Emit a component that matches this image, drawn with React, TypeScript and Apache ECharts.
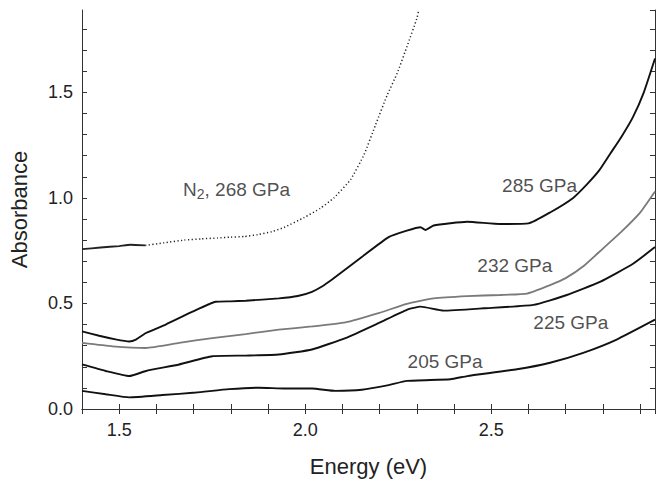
import React, { useEffect, useRef } from "react";
import * as echarts from "echarts";

// ---- data ----
const n2SolidX = [1.40, 1.45, 1.50, 1.53, 1.57];
const n2SolidY = [0.757, 0.765, 0.772, 0.778, 0.775];
const n2DotX = [1.57, 1.62, 1.675, 1.72, 1.765, 1.80, 1.836, 1.872, 1.91, 1.943, 1.997, 2.04, 2.077, 2.122, 2.158, 2.189, 2.22, 2.247, 2.274, 2.30, 2.305];
const n2DotY = [0.775, 0.787, 0.80, 0.806, 0.81, 0.814, 0.817, 0.826, 0.84, 0.86, 0.907, 0.95, 1.0, 1.087, 1.205, 1.346, 1.486, 1.59, 1.72, 1.85, 1.89];

const p285X = [1.40, 1.446, 1.49, 1.527, 1.545, 1.572, 1.625, 1.697, 1.759, 1.80, 1.84, 1.929, 1.98, 2.018, 2.045, 2.072, 2.152, 2.224, 2.273, 2.31, 2.323, 2.345, 2.435, 2.524, 2.60, 2.658, 2.72, 2.757, 2.79, 2.82, 2.85, 2.88, 2.91, 2.94];
const p285Y = [0.368, 0.347, 0.33, 0.32, 0.329, 0.36, 0.40, 0.461, 0.508, 0.51, 0.513, 0.524, 0.535, 0.555, 0.58, 0.613, 0.72, 0.814, 0.845, 0.861, 0.848, 0.869, 0.887, 0.876, 0.879, 0.931, 1.00, 1.064, 1.13, 1.21, 1.29, 1.38, 1.50, 1.66];

const p232X = [1.40, 1.482, 1.572, 1.661, 1.75, 1.84, 1.929, 2.018, 2.108, 2.197, 2.273, 2.345, 2.435, 2.524, 2.596, 2.658, 2.70, 2.75, 2.80, 2.85, 2.90, 2.94];
const p232Y = [0.313, 0.297, 0.289, 0.313, 0.336, 0.355, 0.376, 0.391, 0.41, 0.454, 0.498, 0.524, 0.535, 0.54, 0.547, 0.587, 0.62, 0.68, 0.76, 0.84, 0.93, 1.03];

const p225X = [1.40, 1.464, 1.527, 1.572, 1.661, 1.75, 1.84, 1.929, 2.018, 2.108, 2.197, 2.273, 2.31, 2.372, 2.48, 2.613, 2.703, 2.792, 2.881, 2.94];
const p225Y = [0.211, 0.18, 0.156, 0.18, 0.211, 0.25, 0.253, 0.258, 0.282, 0.336, 0.407, 0.47, 0.485, 0.466, 0.477, 0.493, 0.54, 0.602, 0.688, 0.767];

const p205X = [1.40, 1.464, 1.527, 1.616, 1.706, 1.795, 1.875, 1.947, 2.018, 2.081, 2.152, 2.224, 2.273, 2.39, 2.435, 2.569, 2.658, 2.747, 2.837, 2.94];
const p205Y = [0.086, 0.07, 0.055, 0.066, 0.078, 0.094, 0.101, 0.097, 0.097, 0.086, 0.091, 0.113, 0.133, 0.141, 0.156, 0.188, 0.219, 0.266, 0.329, 0.423];

const labelTexts = ["{n|N}{s|2}{n|, 268 GPa}", "{n|285 GPa}", "{n|232 GPa}", "{n|225 GPa}", "{n|205 GPa}"];
const labelX = [1.6716, 2.529, 2.4625, 2.613, 2.275];
const labelY = [1.04, 1.06, 0.682, 0.412, 0.224];

const xTickLabels = [1.5, 2.0, 2.5];
const yTickLabels = [0.0, 0.5, 1.0, 1.5];

const FONT = "'Liberation Sans', Arial, Helvetica, sans-serif";
const TXT = "#222";

const zip = (xs: number[], ys: number[]) => xs.map((x, i) => [x, ys[i]]);

export default function App() {
  const ref = useRef<HTMLDivElement>(null);
  useEffect(() => {
    if (!ref.current) return;
    const chart = echarts.init(ref.current, undefined, { renderer: "svg" });
    const near = (v: number, arr: number[]) => arr.some((a) => Math.abs(a - v) < 1e-6);
    const axisLine = { show: true, lineStyle: { color: "#333", width: 1 } };
    const tick = { show: true, inside: true, length: 5, lineStyle: { color: "#333", width: 1 } };
    const lineSeries = (name: string, data: number[][], color: string, width: number, type: any = "solid") => ({
      name,
      type: "line",
      data,
      showSymbol: false,
      symbol: "none",
      smooth: 0.15,
      lineStyle: { color, width, type },
      silent: true,
    });
    chart.setOption({
      animation: false,
      backgroundColor: "#fff",
      grid: { left: 81, right: 2, top: 10, bottom: 69 },
      xAxis: [
        {
          type: "value",
          min: 1.4,
          max: 2.94,
          interval: 0.1,
          position: "bottom",
          name: "Energy (eV)",
          nameLocation: "middle",
          nameGap: 46,
          nameTextStyle: { fontFamily: FONT, fontSize: 22, color: TXT },
          axisLine,
          axisTick: tick,
          splitLine: { show: false },
          axisLabel: {
            margin: 12,
            fontFamily: FONT,
            fontSize: 18,
            color: TXT,
            showMaxLabel: false,
            formatter: (v: number) => (near(v, xTickLabels) ? v.toFixed(1) : ""),
          },
        },
        {
          type: "value",
          min: 1.4,
          max: 2.94,
          interval: 0.1,
          position: "top",
          axisLine,
          axisTick: tick,
          axisLabel: { show: false },
          splitLine: { show: false },
        },
      ],
      yAxis: [
        {
          type: "value",
          min: 0,
          max: 1.89,
          interval: 0.1,
          position: "left",
          name: "Absorbance",
          nameLocation: "middle",
          nameGap: 52,
          nameTextStyle: { fontFamily: FONT, fontSize: 22, color: TXT },
          axisLine,
          axisTick: tick,
          splitLine: { show: false },
          axisLabel: {
            margin: 9,
            fontFamily: FONT,
            fontSize: 18,
            color: TXT,
            showMaxLabel: false,
            formatter: (v: number) => (near(v, yTickLabels) ? v.toFixed(1) : ""),
          },
        },
        {
          type: "value",
          min: 0,
          max: 1.89,
          interval: 0.1,
          position: "right",
          axisLine,
          axisTick: tick,
          axisLabel: { show: false },
          splitLine: { show: false },
        },
      ],
      series: [
        lineSeries("N2 268 GPa", zip(n2SolidX, n2SolidY), "#222", 1.8),
        lineSeries("N2 268 GPa dotted", zip(n2DotX, n2DotY), "#222", 1.5, [1.2, 2.4]),
        lineSeries("285 GPa", zip(p285X, p285Y), "#111", 1.9),
        lineSeries("232 GPa", zip(p232X, p232Y), "#7a7a7a", 1.8),
        lineSeries("225 GPa", zip(p225X, p225Y), "#111", 1.9),
        lineSeries("205 GPa", zip(p205X, p205Y), "#111", 1.9),
        {
          name: "labels",
          type: "scatter",
          symbolSize: 0,
          silent: true,
          data: labelX.map((x, i) => ({
            value: [x, labelY[i]],
            label: {
              show: true,
              position: "right",
              distance: 0,
              formatter: labelTexts[i],
              rich: {
                n: { fontFamily: FONT, fontSize: 19, color: TXT },
                s: { fontFamily: FONT, fontSize: 14, color: TXT, padding: [10, 0, 0, 0] },
              },
            },
          })),
        },
      ],
    });
    return () => chart.dispose();
  }, []);
  return (
    <div
      ref={ref}
      style={{ position: "fixed", left: 0, top: 0, width: 657, height: 482, background: "#fff" }}
    />
  );
}
